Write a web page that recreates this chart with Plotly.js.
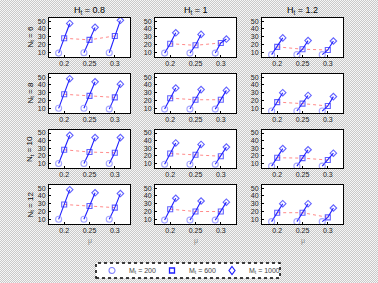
<!DOCTYPE html>
<html><head><meta charset="utf-8">
<script src="https://cdn.plot.ly/plotly-3.0.1.min.js"></script>
<style>
html,body{margin:0;padding:0;}
body{background:repeating-conic-gradient(#c9c9c9 0 25%, #f6f6f6 0 50%) 0 0/2px 2px;}
#chart{width:378px;height:283px;}
</style>
</head><body><div id="chart"></div>
<script>
// ---- data ----
const mu = [0.2, 0.25, 0.3];
const muTickText = ['0.2', '0.25', '0.3'];
const HtLabels = ['0.8', '1', '1.2'];
const NtLabels = ['6', '8', '10', '12'];
const MtLabels = ['200', '600', '1000'];
const yTicks = [10, 20, 30, 40, 50];

// rows: N_t = 6, 8, 10, 12 ; each row: values at mu = 0.2, 0.25, 0.3
const m200_H08  = [[9,9.5,9.5],[10,10,9],[10,10,10],[10,10,10]];
const m600_H08  = [[28,26,31],[28,26,24],[28,25,24],[29,27,25]];
const m1000_H08 = [[47,42,51],[48,44,41],[47,44,44],[48,44,43]];

const m200_H1   = [[9,9,9],[9,9,9],[9,9,9],[9,9,9]];
const m600_H1   = [[21,19,22],[23,21,21],[23,21.5,19.5],[23,20,20]];
const m1000_H1  = [[35,33,27],[36,34,33],[37,35,31.5],[37,33.5,32]];

const m200_H12  = [[7,7,7],[6.5,6.5,6.5],[6.5,6.5,6.5],[7,7,7]];
const m600_H12  = [[17,14,13],[18,16,13],[17.5,17,14.5],[18.5,18.5,12.5]];
const m1000_H12 = [[28.5,25,24.5],[30,26.5,25],[29.5,28,23.5],[30,30,24.5]];

const m200  = [m200_H08,  m200_H1,  m200_H12];
const m600  = [m600_H08,  m600_H1,  m600_H12];
const m1000 = [m1000_H08, m1000_H1, m1000_H12];

// ---- layout constants ----
const W = 378, H = 283;
const dodge = 0.011;
const colX = [[49,130],[155,236],[262,343]];
const rowY = [[18,57],[74,113],[130,168],[185,224]];
const blue = '#1f1fff';
const lightBlue = '#8080ff';
const symbols = ['circle-open', 'square-open', 'diamond-open'];
const symColors = [lightBlue, blue, blue];
const symSizes = [6, 5, 5];
const FONT = 'Liberation Sans, Arial, sans-serif';

const traces = [];
const layout = {
  width: W, height: H,
  margin: {l:0, r:0, t:0, b:0},
  paper_bgcolor: 'rgba(0,0,0,0)',
  plot_bgcolor: '#ffffff',
  font: {family: FONT, size: 7, color: '#222'},
  showlegend: false,
  annotations: [],
  shapes: [{
    type: 'rect', xref: 'paper', yref: 'paper',
    x0: 96/W, x1: 280/W, y0: 1 - 278/H, y1: 1 - 263/H,
    line: {color: '#000', width: 1.5, dash: 'dot'}, fillcolor: '#ffffff', layer: 'below'
  }]
};

let k = 0;
for (let r = 0; r < NtLabels.length; r++) {
  for (let c = 0; c < HtLabels.length; c++) {
    const n = k + 1;
    const xa = 'x' + (n === 1 ? '' : n), ya = 'y' + (n === 1 ? '' : n);
    const a = m200[c][r], b = m600[c][r], d = m1000[c][r];

    // red dotted line through the M=600 points
    traces.push({x: mu, y: b, xaxis: xa, yaxis: ya, mode: 'lines',
      line: {color: '#ff8a8a', width: 1, dash: 'dot'}, hoverinfo: 'skip'});
    // one group per mu: M=200, 600, 1000 joined by a blue line
    mu.forEach((m, i) => {
      traces.push({x: [m - dodge, m, m + dodge], y: [a[i], b[i], d[i]],
        xaxis: xa, yaxis: ya, mode: 'lines+markers',
        line: {color: blue, width: 1.1},
        marker: {symbol: symbols, size: symSizes, color: symColors, line: {width: 1.1}}});
    });

    const axCommon = {showline: true, mirror: true, linecolor: '#000', linewidth: 1,
      ticks: 'inside', ticklen: 2, tickcolor: '#000', showgrid: false, zeroline: false,
      tickfont: {size: 7, color: '#222'}, fixedrange: true};
    layout['xaxis' + (n === 1 ? '' : n)] = Object.assign({}, axCommon, {
      domain: [colX[c][0]/W, colX[c][1]/W], anchor: ya, range: [0.17, 0.33],
      tickvals: mu, ticktext: muTickText});
    layout['yaxis' + (n === 1 ? '' : n)] = Object.assign({}, axCommon, {
      domain: [1 - rowY[r][1]/H, 1 - rowY[r][0]/H], anchor: xa, range: [4, 54],
      tickvals: yTicks, ticklabelstandoff: 1});
    k++;
  }
}

// column titles and mu labels
HtLabels.forEach((h, c) => {
  const cx = (colX[c][0] + colX[c][1]) / 2 / W;
  layout.annotations.push({xref: 'paper', yref: 'paper', x: cx,
    y: 1 - 10/H, text: 'H<sub>t</sub> = ' + h, showarrow: false,
    font: {size: 9, color: '#000'}, xanchor: 'center', yanchor: 'middle'});
  layout.annotations.push({xref: 'paper', yref: 'paper', x: cx,
    y: 1 - 241/H, text: 'μ', showarrow: false,
    font: {size: 7, color: '#888'}, xanchor: 'center', yanchor: 'middle'});
});
// row titles
NtLabels.forEach((nl, r) => {
  layout.annotations.push({xref: 'paper', yref: 'paper', x: 30/W,
    y: 1 - (rowY[r][0] + rowY[r][1]) / 2 / H, text: 'N<sub>t</sub> = ' + nl, showarrow: false,
    textangle: -90, font: {size: 8, color: '#000'}, xanchor: 'center', yanchor: 'middle'});
});

// legend (drawn as layout decorations)
const legX = [112, 172, 232];
const legY = 270.5;
const g = 3; // half size of glyph in px
legX.forEach((lx, i) => {
  const px = v => v / W, py = v => 1 - v / H;
  if (i === 0) {
    layout.shapes.push({type: 'circle', xref: 'paper', yref: 'paper',
      x0: px(lx - g), x1: px(lx + g), y0: py(legY + g), y1: py(legY - g),
      line: {color: lightBlue, width: 1.1}});
  } else if (i === 1) {
    layout.shapes.push({type: 'rect', xref: 'paper', yref: 'paper',
      x0: px(lx - g + 0.5), x1: px(lx + g - 0.5), y0: py(legY + g - 0.5), y1: py(legY - g + 0.5),
      line: {color: blue, width: 1.3}});
  } else {
    const h2 = g + 1;
    layout.shapes.push({type: 'path', xref: 'paper', yref: 'paper',
      path: `M ${px(lx)} ${py(legY - h2)} L ${px(lx + g)} ${py(legY)} L ${px(lx)} ${py(legY + h2)} L ${px(lx - g)} ${py(legY)} Z`,
      line: {color: blue, width: 1.2}});
  }
  layout.annotations.push({xref: 'paper', yref: 'paper', x: (lx + 15) / W, y: 1 - legY / H,
    text: 'M<sub>t</sub> = ' + MtLabels[i], showarrow: false, xanchor: 'left', yanchor: 'middle',
    font: {size: 7, color: '#444'}});
});

Plotly.newPlot('chart', traces, layout, {staticPlot: true, displayModeBar: false});
</script>
</body></html>
